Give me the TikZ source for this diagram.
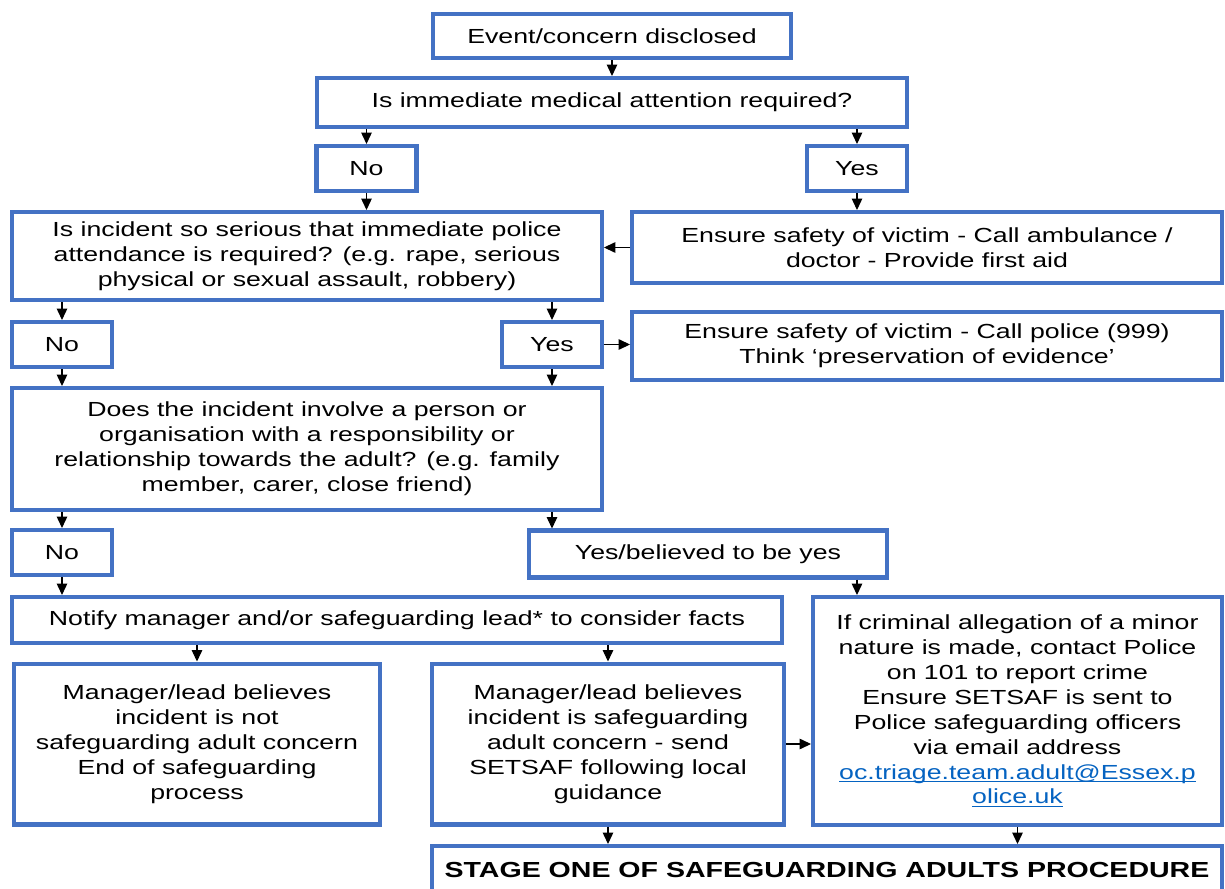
\documentclass[tikz,border=0pt]{standalone}
\usepackage{fontspec}
\setmainfont{Liberation Sans}[FakeStretch=1.31]
\usetikzlibrary{positioning, arrows.meta}
\definecolor{boxblue}{RGB}{68,114,196}
\definecolor{linkblue}{RGB}{5,99,193}
\newcommand{\maillink}[1]{\textcolor{linkblue}{\underline{\smash{#1}}}}

\begin{document}
\begin{tikzpicture}[x=0.02cm, y=-0.02cm,
	box/.style={draw=boxblue, line width=2.3pt, rectangle, align=center, inner sep=2pt, font=\fontsize{11.6}{14.2}\selectfont},
	arr/.style={draw=black, line width=0.6pt, -{Triangle[length=6.5pt, width=6pt]}}]
	\useasboundingbox (0,0) rectangle (1225,889);
	%diagram
	\node[box, minimum width=7.18cm, minimum height=0.88cm] (event) at (612,36) {Event/concern disclosed};
	\node[box, minimum width=11.82cm, minimum height=0.98cm] (medical) at (612,102.5) {Is immediate medical attention required?};
	\node[box, minimum width=2cm, minimum height=0.9cm] (no1) at (366.5,168.5) {No};
	\node[box, minimum width=2cm, minimum height=0.9cm] (yes1) at (857,168.5) {Yes};
	\node[box, minimum width=11.8cm, minimum height=1.76cm] (serious) at (307,256) {Is incident so serious that immediate police\\attendance is required? (e.g. rape, serious\\physical or sexual assault, robbery)};
	\node[box, minimum width=11.8cm, minimum height=1.42cm] (ambulance) at (927,247.5) {Ensure safety of victim - Call ambulance /\\doctor - Provide first aid};
	\node[box, minimum width=2cm, minimum height=0.9cm] (no2) at (62,344.5) {No};
	\node[box, minimum width=2cm, minimum height=0.9cm] (yes2) at (552,344.5) {Yes};
	\node[box, minimum width=11.8cm, minimum height=1.36cm] (police) at (927,346) {Ensure safety of victim - Call police (999)\\Think ‘preservation of evidence’};
	\node[box, minimum width=11.8cm, minimum height=2.44cm] (involve) at (307,449) {Does the incident involve a person or\\organisation with a responsibility or\\relationship towards the adult? (e.g. family\\member, carer, close friend)};
	\node[box, minimum width=2cm, minimum height=0.9cm] (no3) at (62,552.5) {No};
	\node[box, minimum width=7.18cm, minimum height=0.94cm] (yesb) at (708,554) {Yes/believed to be yes};
	\node[box, minimum width=15.42cm, minimum height=0.92cm] (notify) at (397,620) {Notify manager and/or safeguarding lead* to consider facts};
	\node[box, minimum width=7.32cm, minimum height=3.22cm] (mgrno) at (197,744) {Manager/lead believes\\incident is not\\safeguarding adult concern\\End of safeguarding\\process};
	\node[box, minimum width=7.04cm, minimum height=3.22cm] (mgryes) at (608,744) {Manager/lead believes\\incident is safeguarding\\adult concern - send\\SETSAF following local\\guidance};
	\node[box, minimum width=8.18cm, minimum height=4.56cm] (criminal) at (1017.5,711) {If criminal allegation of a minor\\nature is made, contact Police\\on 101 to report crime\\Ensure SETSAF is sent to\\Police safeguarding officers\\via email address\\\maillink{oc.triage.team.adult@Essex.p}\\\maillink{olice.uk}};
	\node[box, minimum width=15.8cm, minimum height=0.96cm, font=\fontsize{12.4}{14.2}\selectfont\bfseries] (stage) at (827,870) {STAGE ONE OF SAFEGUARDING ADULTS PROCEDURE};
	%arrows
	\draw[arr] (event) -- (medical);
	\draw[arr] (medical.south -| no1.north) -- (no1.north);
	\draw[arr] (medical.south -| yes1.north) -- (yes1.north);
	\draw[arr] (no1.south) -- (no1.south |- serious.north);
	\draw[arr] (yes1.south) -- (yes1.south |- ambulance.north);
	\draw[arr] (ambulance.west) -- (ambulance.west -| serious.east);
	\draw[arr] (serious.south -| no2.north) -- (no2.north);
	\draw[arr] (serious.south -| yes2.north) -- (yes2.north);
	\draw[arr] (yes2.east) -- (yes2.east -| police.west);
	\draw[arr] (no2.south) -- (no2.south |- involve.north);
	\draw[arr] (yes2.south) -- (yes2.south |- involve.north);
	\draw[arr] (involve.south -| no3.north) -- (no3.north);
	\draw[arr] (involve.south -| yes2.south) -- (yesb.north -| yes2.south);
	\draw[arr] (no3.south) -- (no3.south |- notify.north);
	\draw[arr] (yesb.south -| yes1.south) -- (criminal.north -| yes1.south);
	\draw[arr] (notify.south -| mgrno.north) -- (mgrno.north);
	\draw[arr] (notify.south -| mgryes.north) -- (mgryes.north);
	\draw[arr] (mgryes.east) -- (mgryes.east -| criminal.west);
	\draw[arr] (mgryes.south) -- (mgryes.south |- stage.north);
	\draw[arr] (criminal.south) -- (criminal.south |- stage.north);
\end{tikzpicture}
\end{document}
